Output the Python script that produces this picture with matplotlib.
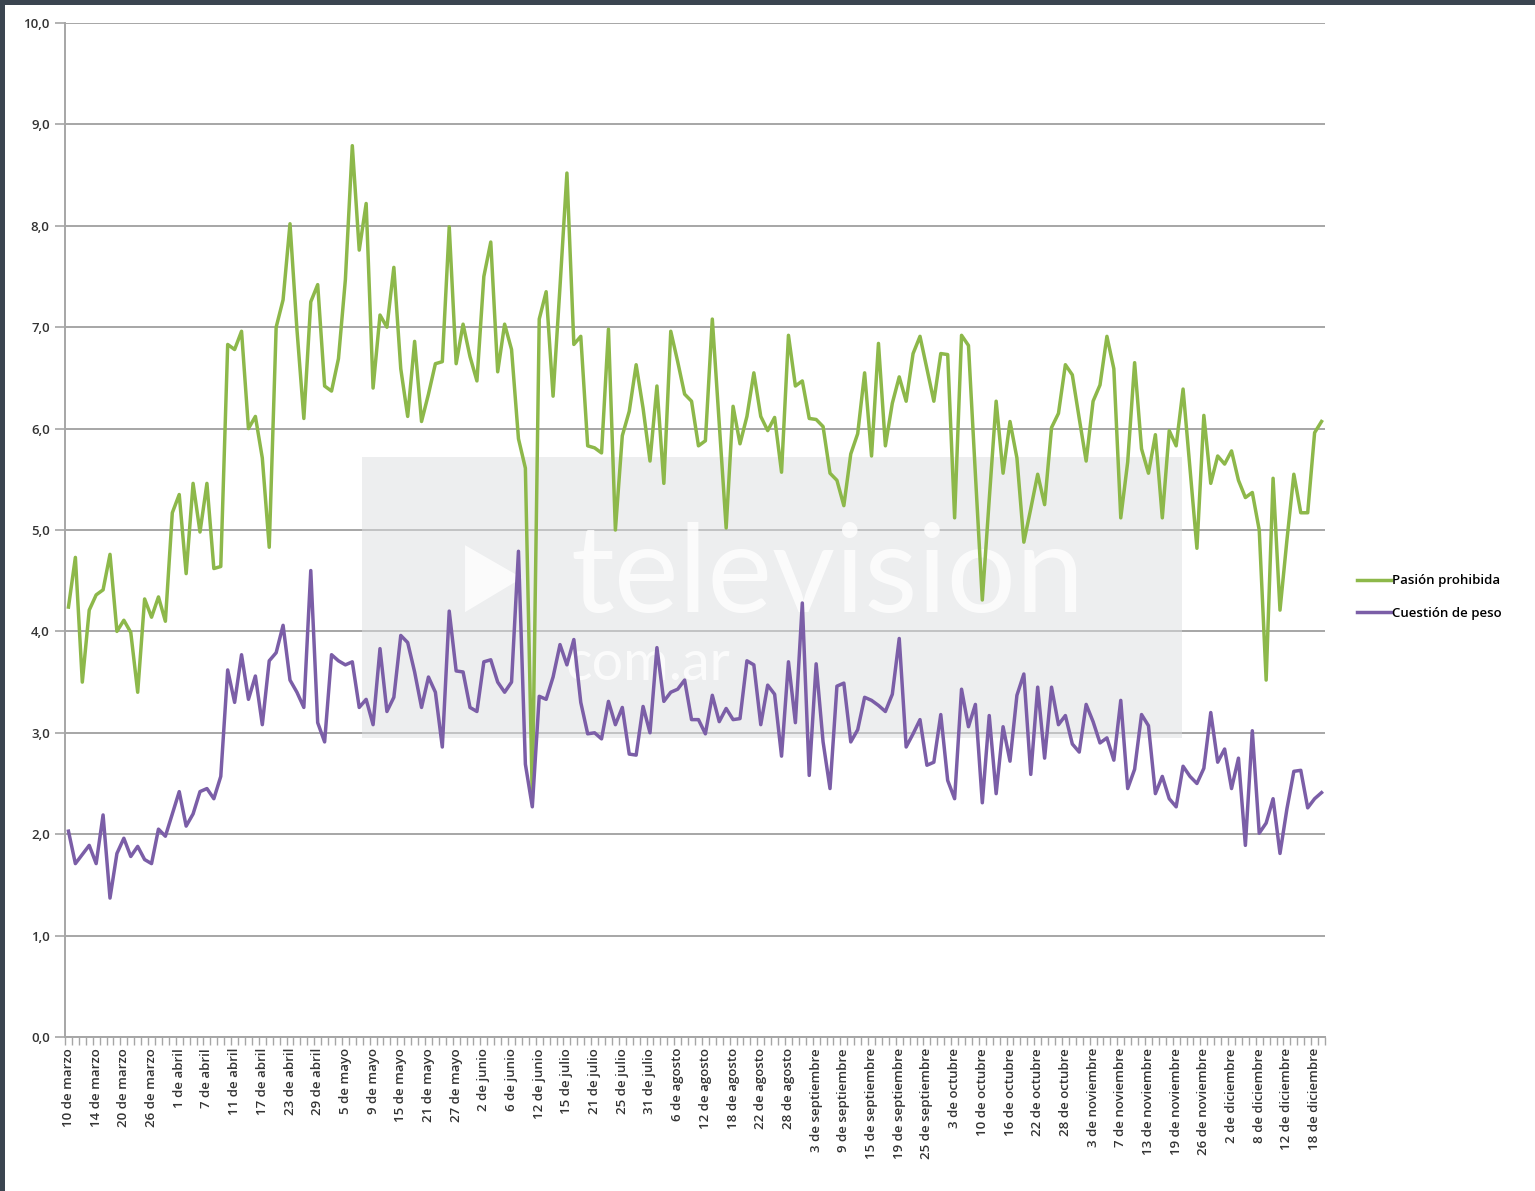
import matplotlib
matplotlib.use("Agg")
import matplotlib.pyplot as plt
import numpy as np
from matplotlib.patches import Rectangle, Polygon

# rating per broadcast day (weekdays, 10 de marzo .. 19 de diciembre)
pasion = [
    4.24, 4.73, 3.50, 4.21, 4.36, 4.41, 4.76, 4.00, 4.11, 3.99, 3.40, 4.32, 4.14, 4.34, 4.10, 5.17,
    5.35, 4.57, 5.46, 4.98, 5.46, 4.62, 4.64, 6.83, 6.78, 6.96,
    6.00, 6.12, 5.71, 4.83, 7.00, 7.27, 8.02, 6.98, 6.10, 7.25, 7.42, 6.42, 6.37, 6.69, 7.47, 8.79,
    7.76, 8.22, 6.40, 7.12, 7.00, 7.59, 6.59, 6.12, 6.86, 6.07,
    6.34, 6.64, 6.66, 7.99, 6.64, 7.03, 6.71, 6.47, 7.50, 7.84, 6.56, 7.03, 6.78, 5.90, 5.61, 2.35,
    7.08, 7.35, 6.32, 7.40, 8.52, 6.83, 6.91, 5.83, 5.81, 5.76,
    6.98, 5.00, 5.93, 6.17, 6.63, 6.20, 5.68, 6.42, 5.46, 6.96, 6.66, 6.34, 6.27, 5.83, 5.88, 7.08,
    6.05, 5.02, 6.22, 5.85, 6.12, 6.55, 6.12, 5.98, 6.11, 5.57,
    6.92, 6.42, 6.47, 6.10, 6.09, 6.02, 5.56, 5.49, 5.24, 5.75, 5.95, 6.55, 5.73, 6.84, 5.83, 6.25,
    6.51, 6.27, 6.74, 6.91, 6.59, 6.27, 6.74, 6.73, 5.12, 6.92,
    6.82, 5.55, 4.31, 5.30, 6.27, 5.56, 6.07, 5.71, 4.88, 5.21, 5.55, 5.25, 6.01, 6.15, 6.63, 6.53,
    6.10, 5.68, 6.27, 6.43, 6.91, 6.59, 5.12, 5.67, 6.65, 5.80,
    5.56, 5.94, 5.12, 5.98, 5.83, 6.39, 5.60, 4.82, 6.13, 5.46, 5.73, 5.65, 5.78, 5.49, 5.32, 5.37,
    5.00, 3.52, 5.51, 4.21, 4.90, 5.55, 5.17, 5.17, 5.96, 6.07,
]
cuestion = [
    2.03, 1.71, 1.80, 1.89, 1.71, 2.19, 1.37, 1.81, 1.96, 1.78, 1.88, 1.75, 1.71, 2.05, 1.98, 2.20,
    2.42, 2.08, 2.20, 2.42, 2.45, 2.35, 2.57, 3.62, 3.30, 3.77,
    3.33, 3.56, 3.08, 3.71, 3.79, 4.06, 3.52, 3.40, 3.25, 4.60, 3.10, 2.91, 3.77, 3.71, 3.67, 3.70,
    3.25, 3.33, 3.08, 3.83, 3.21, 3.35, 3.96, 3.89, 3.60, 3.25,
    3.55, 3.40, 2.86, 4.20, 3.61, 3.60, 3.25, 3.21, 3.70, 3.72, 3.50, 3.40, 3.50, 4.79, 2.69, 2.27,
    3.36, 3.33, 3.55, 3.87, 3.67, 3.92, 3.30, 2.99, 3.00, 2.94,
    3.31, 3.08, 3.25, 2.79, 2.78, 3.26, 3.00, 3.84, 3.31, 3.40, 3.43, 3.52, 3.13, 3.13, 2.99, 3.37,
    3.11, 3.24, 3.13, 3.14, 3.71, 3.67, 3.08, 3.47, 3.38, 2.77,
    3.70, 3.10, 4.28, 2.58, 3.68, 2.91, 2.45, 3.46, 3.49, 2.91, 3.03, 3.35, 3.32, 3.27, 3.21, 3.38,
    3.93, 2.86, 2.99, 3.13, 2.68, 2.71, 3.18, 2.53, 2.35, 3.43,
    3.06, 3.28, 2.31, 3.17, 2.40, 3.06, 2.72, 3.37, 3.58, 2.59, 3.45, 2.75, 3.45, 3.08, 3.17, 2.89,
    2.81, 3.28, 3.11, 2.90, 2.95, 2.73, 3.32, 2.45, 2.64, 3.18,
    3.07, 2.40, 2.57, 2.35, 2.27, 2.67, 2.57, 2.50, 2.65, 3.20, 2.71, 2.84, 2.45, 2.75, 1.89, 3.02,
    2.01, 2.11, 2.35, 1.81, 2.25, 2.62, 2.63, 2.26, 2.35, 2.41,
]

# every fourth category carries a label
tick_labels = [
    "10 de marzo", "14 de marzo", "20 de marzo", "26 de marzo", "1 de abril", "7 de abril",
    "11 de abril", "17 de abril", "23 de abril", "29 de abril", "5 de mayo", "9 de mayo",
    "15 de mayo", "21 de mayo", "27 de mayo", "2 de junio", "6 de junio", "12 de junio",
    "15 de julio", "21 de julio", "25 de julio", "31 de julio", "6 de agosto", "12 de agosto",
    "18 de agosto", "22 de agosto", "28 de agosto", "3 de septiembre", "9 de septiembre",
    "15 de septiembre", "19 de septiembre", "25 de septiembre", "3 de octubre", "10 de octubre",
    "16 de octubre", "22 de octubre", "28 de octubre", "3 de noviembre", "7 de noviembre",
    "13 de noviembre", "19 de noviembre", "26 de noviembre", "2 de diciembre", "8 de diciembre",
    "12 de diciembre", "18 de diciembre",
]
label_step = 4

plt.rcParams['font.family'] = ['Open Sans', 'DejaVu Sans']

fig = plt.figure(figsize=(15.35, 11.91), dpi=100)
fig.patch.set_facecolor("#3b4550")
fig.add_artist(Rectangle((5 / 1535, 0), 1, 1 - 5 / 1191, transform=fig.transFigure,
                         facecolor="white", edgecolor="none", zorder=-10))

ax = fig.add_axes([65 / 1535, 1 - 1037 / 1191, 1260 / 1535, 1014 / 1191])
ax.set_facecolor("none")

x = np.arange(len(pasion))
ax.plot(x, pasion, color="#8db84a", lw=2.5, label="Pasión prohibida", zorder=3)
ax.plot(x, cuestion, color="#7b5ea7", lw=2.5, label="Cuestión de peso", zorder=3)

ax.set_xlim(-0.5, len(pasion) - 0.5)
ax.set_ylim(0, 10)
ax.set_yticks(np.arange(0, 11, 1))
ax.set_yticklabels([f"{v:.1f}".replace(".", ",") for v in range(0, 11)], fontsize=9.5,
                   color="#333333", fontweight="semibold")
ax.yaxis.grid(True, color="#a6a6a6", lw=1.4)
ax.set_axisbelow(True)

ax.set_xticks(np.arange(0, len(pasion), label_step)[:len(tick_labels)])
ax.set_xticklabels(tick_labels, rotation=90, fontsize=9.5, color="#333333", fontweight="semibold")
ax.set_xticks(np.arange(-0.5, len(pasion), 1), minor=True)
ax.tick_params(axis="x", which="major", length=0, pad=8)
ax.tick_params(axis="x", which="minor", length=6, color="#a6a6a6", width=1)
ax.tick_params(axis="y", length=7, color="#a6a6a6", width=1.2, pad=4)

for side in ("top", "right"):
    ax.spines[side].set_visible(False)
for side in ("left", "bottom"):
    ax.spines[side].set_color("#a6a6a6")
    ax.spines[side].set_linewidth(1.4)

# watermark
ax.add_patch(Rectangle((0.2357, 0.295), 0.6508, 0.277, transform=ax.transAxes,
                       facecolor="#dcdee1", alpha=0.5, edgecolor="none", zorder=2))
ax.add_patch(Polygon([(0.3175, 0.485), (0.3175, 0.419), (0.3627, 0.4527)], closed=True,
                     transform=ax.transAxes, facecolor="white", alpha=0.8, edgecolor="none",
                     zorder=2))
ax.text(0.605, 0.419, "television", transform=ax.transAxes, fontsize=88, color="white",
        alpha=0.8, ha="center", va="baseline", family="Lato", zorder=2)
ax.text(0.397, 0.352, "com.ar", transform=ax.transAxes, fontsize=40, color="white",
        alpha=0.8, ha="left", va="baseline", family="Lato", zorder=2)

fig.legend(loc="center left", bbox_to_anchor=(1345 / 1535, 1 - 597 / 1191), frameon=False,
           handlelength=2.6, handletextpad=0.1, labelspacing=1.45,
           prop={"weight": "semibold", "size": 9.5})

fig.savefig("out.png", dpi=100, facecolor=fig.get_facecolor())
